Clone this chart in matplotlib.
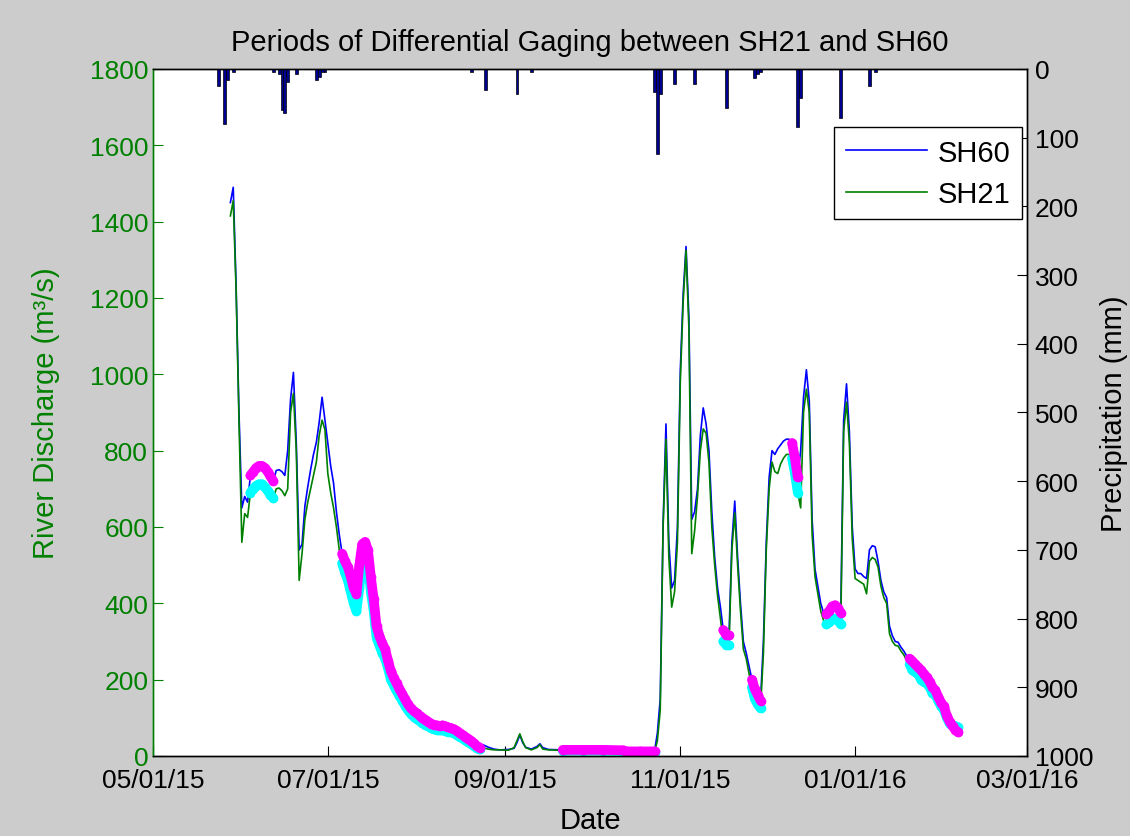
import numpy as np
import matplotlib
matplotlib.use("Agg")
from matplotlib import pyplot as plt

plt.rcParams['font.family'] = ['Liberation Sans', 'DejaVu Sans']

start = np.datetime64('2015-05-01')

# discharge, day offset from 05/01/15
days = [27, 28, 29, 30, 31, 32, 33, 34, 35, 36, 37, 38, 39, 40, 41, 42, 43, 44, 45, 46,
        47, 48, 49, 50, 51, 52, 53, 54, 55, 56, 57, 58, 59, 60, 61, 62, 63, 64, 65, 66,
        67, 68, 69, 70, 71, 72, 73, 74, 75, 76, 77, 78, 79, 80, 81, 82, 83, 84, 85, 86,
        87, 88, 89, 90, 91, 92, 93, 94, 95, 96, 97, 98, 99, 100, 101, 102, 103, 104, 105, 106,
        107, 108, 109, 110, 111, 112, 113, 114, 115, 117, 119, 121, 124, 126, 127, 128, 129, 130, 132, 134,
        135, 136, 138, 142, 143, 150, 157, 164, 165, 170, 175, 176, 177, 178, 179, 180, 181, 182, 183, 184,
        185, 186, 187, 188, 189, 190, 191, 192, 193, 194, 195, 196, 197, 198, 199, 200, 201, 202, 203, 204,
        205, 206, 207, 208, 209, 210, 211, 212, 213, 214, 215, 216, 217, 218, 219, 220, 221, 222, 223, 224,
        225, 226, 227, 228, 229, 230, 231, 232, 233, 234, 235, 236, 237, 238, 239, 240, 241, 242, 243, 244,
        245, 246, 247, 248, 249, 250, 251, 252, 253, 254, 255, 256, 257, 258, 259, 260, 261, 262, 263, 264,
        265, 266, 267, 268, 269, 270, 271, 272, 273, 274, 275, 276, 277, 278, 279, 280, 281]

sh60 = [1450, 1490, 1230, 900, 650, 680, 665, 735, 745, 755, 760, 760, 755, 745, 733, 720, 748, 750, 745, 735,
        800, 935, 1005, 820, 540, 555, 655, 705, 750, 790, 822, 875, 940, 880, 820, 760, 715, 640, 580, 530,
        510, 495, 470, 440, 425, 500, 555, 561, 540, 470, 411, 340, 315, 295, 280, 250, 222, 205, 190, 176,
        162, 148, 135, 125, 118, 112, 106, 100, 95, 90, 85, 82, 80, 78, 80, 78, 75, 73, 70, 66,
        60, 55, 50, 45, 40, 33, 26, 22, 30, 23, 18, 16, 17, 20, 35, 55, 35, 23, 18, 25,
        32, 22, 17, 16, 16, 16, 16, 15, 12, 12, 12, 60, 150, 610, 870, 560, 440, 460, 600, 1010,
        1210, 1335, 1150, 620, 640, 700, 840, 912, 870, 800, 640, 520, 440, 390, 330, 318, 316, 560, 668, 520,
        400, 300, 270, 235, 200, 175, 160, 145, 300, 560, 730, 800, 790, 805, 815, 825, 830, 830, 820, 780,
        730, 800, 940, 1012, 930, 620, 490, 445, 400, 375, 372, 380, 392, 395, 388, 375, 880, 975, 850, 600,
        490, 478, 478, 470, 465, 540, 551, 548, 510, 460, 430, 415, 340, 315, 300, 298, 285, 275, 262, 255,
        248, 240, 232, 225, 215, 206, 195, 180, 172, 155, 140, 130, 105, 90, 78, 68, 62]

sh21 = [1415, 1455, 1220, 880, 560, 635, 625, 690, 700, 708, 712, 712, 705, 695, 685, 675, 700, 702, 695, 682,
        700, 900, 950, 800, 460, 530, 620, 665, 700, 735, 770, 840, 880, 855, 740, 690, 650, 600, 540, 505,
        480, 460, 430, 400, 380, 440, 500, 530, 510, 430, 380, 310, 290, 270, 255, 230, 200, 185, 170, 158,
        145, 132, 120, 110, 103, 97, 92, 86, 82, 78, 73, 70, 68, 67, 68, 66, 64, 62, 59, 55,
        50, 46, 41, 36, 32, 26, 20, 17, 22, 18, 16, 16, 15, 22, 40, 58, 38, 22, 16, 22,
        30, 18, 16, 15, 14, 14, 14, 13, 10, 10, 10, 40, 120, 600, 830, 520, 390, 430, 560, 980,
        1190, 1325, 1120, 530, 590, 680, 800, 857, 845, 770, 600, 500, 420, 360, 300, 292, 290, 540, 637, 500,
        380, 280, 255, 215, 180, 150, 135, 125, 270, 540, 700, 770, 745, 740, 765, 780, 790, 790, 780, 740,
        690, 650, 900, 961, 900, 580, 470, 425, 380, 355, 345, 350, 358, 360, 355, 345, 850, 927, 820, 570,
        465, 460, 455, 450, 425, 510, 520, 515, 495, 445, 415, 400, 320, 300, 290, 288, 275, 265, 250, 240,
        225, 220, 215, 200, 195, 190, 180, 165, 160, 145, 130, 120, 100, 85, 80, 78, 75]

# periods of differential gaging (first day, last day)
gaging = [(34, 42), (66, 114), (143, 175), (199, 201), (209, 212), (223, 225), (235, 240), (264, 281)]

# precipitation
p_days = [23, 25, 26, 28, 42, 44, 45, 46, 47, 50, 57, 58, 59, 60, 111, 116, 127, 132,
          175, 176, 177, 182, 189, 200, 210, 211, 212, 225, 226, 240, 250, 252]
p_mm = [25, 80, 16, 4, 4, 8, 60, 64, 19, 8, 16, 12, 5, 4, 4, 31, 37, 4,
        34, 124, 36, 22, 22, 57, 13, 7, 5, 85, 42, 71, 25, 4]

xtick_dates = ['2015-05-01', '2015-07-01', '2015-09-01', '2015-11-01', '2016-01-01', '2016-03-01']
xtick_labels = ['05/01/15', '07/01/15', '09/01/15', '11/01/15', '01/01/16', '03/01/16']

green = '#008000'
fs_tick = 19
fs_lab = 21

t = start + np.array(days)
q60 = np.array(sh60, dtype=float)
q21 = np.array(sh21, dtype=float)
d = np.array(days)

fig = plt.figure(figsize=(11.3, 8.37), dpi=100, facecolor='#cccccc')
ax1 = fig.add_axes([0.1354, 0.0956, 0.7735, 0.8208])
ax1.set_facecolor('white')

l60, = ax1.plot(t, q60, color='blue', lw=1.2, label='SH60')
l21, = ax1.plot(t, q21, color=green, lw=1.2, label='SH21')

for a, b in gaging:
    m = (d >= a) & (d <= b)
    ax1.plot(t[m], q21[m], color='cyan', lw=7, marker='o', ms=7, mec='none',
             solid_capstyle='round', solid_joinstyle='round')
for a, b in gaging:
    m = (d >= a) & (d <= b)
    ax1.plot(t[m], q60[m], color='magenta', lw=7, marker='o', ms=7, mec='none',
             solid_capstyle='round', solid_joinstyle='round')

ax1.set_xlim(np.datetime64(xtick_dates[0]), np.datetime64(xtick_dates[-1]))
ax1.set_xticks([np.datetime64(x) for x in xtick_dates])
ax1.set_xticklabels(xtick_labels)
ax1.set_ylim(0, 1800)
ax1.set_yticks(range(0, 1801, 200))
ax1.tick_params(axis='y', direction='in', length=7, color=green, labelcolor=green,
                labelsize=fs_tick, pad=3.5)
ax1.tick_params(axis='x', direction='in', length=7, labelsize=fs_tick, pad=9)
ax1.set_ylabel('River Discharge (m³/s)', color=green, fontsize=fs_lab)
ax1.yaxis.set_label_coords(-0.106, 0.5)
ax1.set_xlabel('Date', fontsize=fs_lab)
ax1.xaxis.set_label_coords(0.5, -0.073)
ax1.set_title('Periods of Differential Gaging between SH21 and SH60', fontsize=fs_lab, pad=13.5)

ax2 = ax1.twinx()
ax2.bar(start + np.array(p_days), p_mm, width=1.0, color='#000090', edgecolor='black', linewidth=0.5)
ax2.set_ylim(1000, 0)
ax2.set_yticks(range(0, 1001, 100))
ax2.tick_params(axis='y', direction='in', length=7, labelsize=fs_tick, pad=5.5)
ax2.set_ylabel('Precipitation (mm)', fontsize=fs_lab)
ax2.yaxis.set_label_coords(1.0835, 0.5)

for ax in (ax1, ax2):
    for s in ax.spines.values():
        s.set_linewidth(1.0)
    ax.spines['left'].set_color(green)

leg = ax2.legend([l60, l21], ['SH60', 'SH21'], loc='upper right', bbox_to_anchor=(0.994, 0.9156),
                 borderaxespad=0, fontsize=fs_lab, fancybox=False, framealpha=1, edgecolor='black',
                 handlelength=2.8, handletextpad=0.35, labelspacing=0.45)
leg.get_frame().set_linewidth(1.0)

fig.savefig('out.png', dpi=100, facecolor=fig.get_facecolor())
